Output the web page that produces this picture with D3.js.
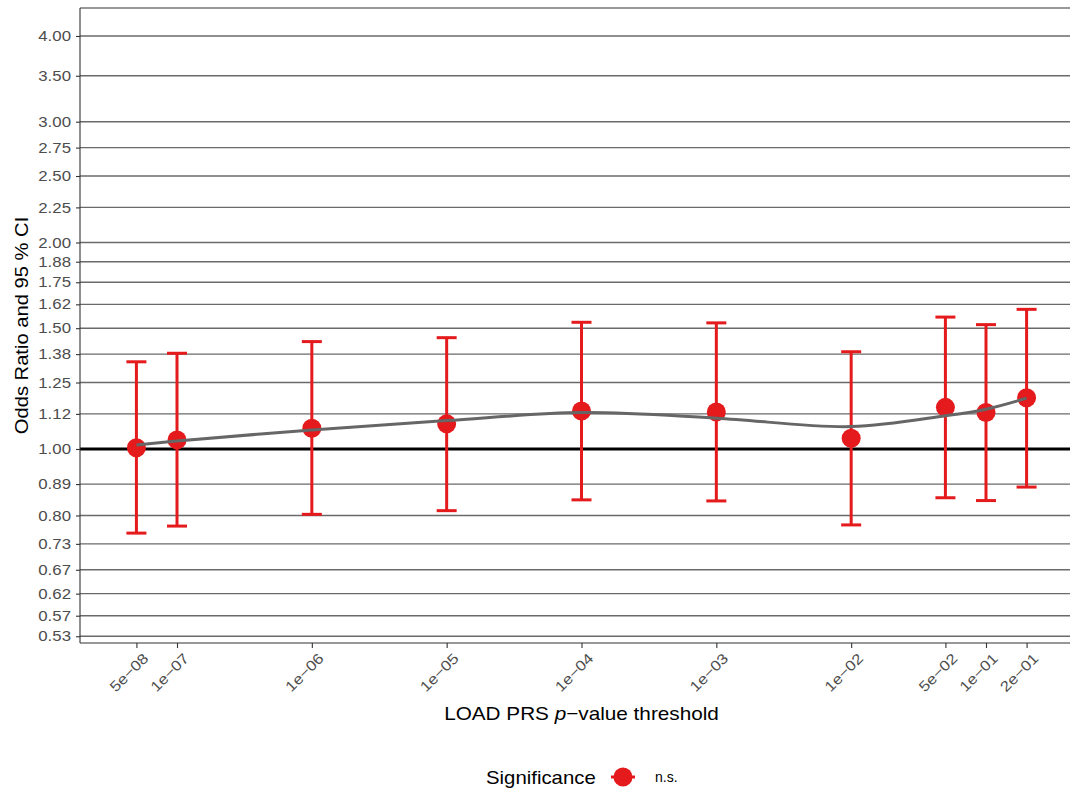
<!DOCTYPE html>
<html>
<head>
<meta charset="utf-8">
<script src="https://cdn.jsdelivr.net/npm/d3@7"></script>
<style>
  body { margin: 0; background: #fff; }
  text { font-family: "Liberation Sans", Arial, Helvetica, sans-serif; }
</style>
</head>
<body>
<svg id="chart" width="1070" height="791"></svg>
<script>
// PRS p-value thresholds and their labels
const thresholds = [5e-8, 1e-7, 1e-6, 1e-5, 1e-4, 1e-3, 1e-2, 5e-2, 1e-1, 2e-1];
const thresholdLabels = ["5e\u221208", "1e\u221207", "1e\u221206", "1e\u221205", "1e\u221204",
                         "1e\u221203", "1e\u221202", "5e\u221202", "1e\u221201", "2e\u221201"];

// Odds ratios with 95% confidence interval bounds
const oddsRatio = [1.004, 1.031, 1.072, 1.088, 1.136, 1.132, 1.037, 1.150, 1.130, 1.188];
const ciLower   = [0.754, 0.772, 0.803, 0.813, 0.843, 0.840, 0.775, 0.849, 0.841, 0.880];
const ciUpper   = [1.340, 1.379, 1.434, 1.453, 1.530, 1.527, 1.386, 1.557, 1.518, 1.598];

// Smoothed trend of the odds ratio across thresholds
const smoothFit = [1.0135, 1.027, 1.066, 1.100, 1.130, 1.109, 1.078, 1.118, 1.143, 1.186];

// Y axis breaks (odds ratio and reciprocals)
const yTicks = [1/1.875, 1/1.75, 1/1.625, 1/1.5, 1/1.375, 1/1.25, 1/1.125, 1,
                1.125, 1.25, 1.375, 1.5, 1.625, 1.75, 1.875, 2, 2.25, 2.5, 2.75, 3, 3.5, 4];
const yTickLabels = ["0.53", "0.57", "0.62", "0.67", "0.73", "0.80", "0.89", "1.00",
                     "1.12", "1.25", "1.38", "1.50", "1.62", "1.75", "1.88", "2.00",
                     "2.25", "2.50", "2.75", "3.00", "3.50", "4.00"];

const significance = ["n.s."];

const RED = "#E41A1C";
const svg = d3.select("#chart");

const panel = { left: 80, right: 1083, top: 8, bottom: 643 };

// widen glyphs of a text selection by a factor, keeping its anchor
function widen(sel, f) {
  sel.each(function () {
    const w = this.getComputedTextLength();
    this.setAttribute("textLength", w * f);
    this.setAttribute("lengthAdjust", "spacingAndGlyphs");
  });
}

const x = d3.scaleLog()
  .domain([Math.pow(10, -7.7194), Math.pow(10, -0.2806)])
  .range([panel.left, panel.right]);

const y = d3.scaleLog()
  .domain([0.5214, 4.394])
  .range([panel.bottom, panel.top]);

// horizontal grid lines
svg.append("g")
  .selectAll("line")
  .data(yTicks)
  .join("line")
  .attr("x1", panel.left).attr("x2", panel.right)
  .attr("y1", d => y(d)).attr("y2", d => y(d))
  .attr("stroke", "#6a6a6a")
  .attr("stroke-width", 1.4);

// panel top border
svg.append("line")
  .attr("x1", panel.left).attr("x2", panel.right)
  .attr("y1", panel.top).attr("y2", panel.top)
  .attr("stroke", "#333").attr("stroke-width", 1.1);

// reference line at OR = 1
svg.append("line")
  .attr("x1", panel.left).attr("x2", panel.right)
  .attr("y1", y(1)).attr("y2", y(1))
  .attr("stroke", "#000").attr("stroke-width", 3);

// Y axis
const yAxis = d3.axisLeft(y)
  .tickValues(yTicks)
  .tickFormat((d, i) => yTickLabels[i])
  .tickSize(4)
  .tickPadding(5);
const gy = svg.append("g")
  .attr("transform", `translate(${panel.left},0)`)
  .call(yAxis);
gy.select(".domain").attr("stroke", "#333").attr("stroke-width", 1.1)
  .attr("d", `M0,${panel.top}V${panel.bottom}`);
gy.selectAll(".tick line").attr("stroke", "#333").attr("stroke-width", 1.1);
gy.selectAll(".tick text")
  .attr("fill", "#4d4d4d")
  .attr("font-size", 14.5)
  .attr("font-family", "Liberation Sans, Arial, sans-serif")
  .call(widen, 1.16);

// X axis
const xAxis = d3.axisBottom(x)
  .tickValues(thresholds)
  .tickFormat((d, i) => thresholdLabels[i])
  .tickSize(5);
const gx = svg.append("g")
  .attr("transform", `translate(0,${panel.bottom})`)
  .call(xAxis);
gx.select(".domain").attr("stroke", "#333").attr("stroke-width", 1.1)
  .attr("d", `M${panel.left},0H${panel.right}`);
gx.selectAll(".tick line").attr("stroke", "#333").attr("stroke-width", 1.1);
gx.selectAll(".tick text")
  .attr("fill", "#4d4d4d")
  .attr("font-size", 14.5)
  .attr("font-family", "Liberation Sans, Arial, sans-serif")
  .attr("text-anchor", "end")
  .attr("dy", null)
  .attr("y", null)
  .attr("transform", "translate(5,9) rotate(-45)")
  .attr("dominant-baseline", "hanging")
  .call(widen, 1.16);

const rows = thresholds.map((t, i) => ({
  t, or: oddsRatio[i], lo: ciLower[i], hi: ciUpper[i], fit: smoothFit[i]
}));

// error bars
const capHalf = 10;
const eb = svg.append("g")
  .attr("stroke", RED)
  .attr("stroke-width", 3);
eb.selectAll("line.v")
  .data(rows)
  .join("line")
  .attr("class", "v")
  .attr("x1", d => x(d.t)).attr("x2", d => x(d.t))
  .attr("y1", d => y(d.lo)).attr("y2", d => y(d.hi));
eb.selectAll("line.top")
  .data(rows)
  .join("line")
  .attr("class", "top")
  .attr("x1", d => x(d.t) - capHalf).attr("x2", d => x(d.t) + capHalf)
  .attr("y1", d => y(d.hi)).attr("y2", d => y(d.hi));
eb.selectAll("line.bot")
  .data(rows)
  .join("line")
  .attr("class", "bot")
  .attr("x1", d => x(d.t) - capHalf).attr("x2", d => x(d.t) + capHalf)
  .attr("y1", d => y(d.lo)).attr("y2", d => y(d.lo));

// points
svg.append("g")
  .selectAll("circle")
  .data(rows)
  .join("circle")
  .attr("cx", d => x(d.t))
  .attr("cy", d => y(d.or))
  .attr("r", 9.5)
  .attr("fill", RED);

// smoothed trend
const smoothLine = d3.line()
  .x(d => x(d.t))
  .y(d => y(d.fit))
  .curve(d3.curveCatmullRom.alpha(0.5));
svg.append("path")
  .datum(rows)
  .attr("d", smoothLine)
  .attr("fill", "none")
  .attr("stroke", "#666666")
  .attr("stroke-width", 3);

// axis titles
svg.append("text")
  .attr("transform", `translate(28,${(panel.top + panel.bottom) / 2}) rotate(-90)`)
  .attr("text-anchor", "middle")
  .attr("font-size", 18.5)
  .attr("fill", "#000")
  .text("Odds Ratio and 95 % CI")
  .call(widen, 1.09);

const xTitle = svg.append("text")
  .attr("x", (panel.left + panel.right) / 2)
  .attr("y", 720)
  .attr("text-anchor", "middle")
  .attr("font-size", 18.5)
  .attr("fill", "#000");
xTitle.append("tspan").text("LOAD PRS ");
xTitle.append("tspan").attr("font-style", "italic").text("p");
xTitle.append("tspan").text("\u2212value threshold");
xTitle.call(widen, 1.12);

// legend
const legend = svg.append("g").attr("transform", "translate(0,777)");
legend.append("text")
  .attr("x", 486).attr("y", 6.5)
  .attr("font-size", 18.5)
  .attr("fill", "#000")
  .text("Significance")
  .call(widen, 1.10);
legend.selectAll("g.key")
  .data(significance)
  .join("g")
  .attr("class", "key")
  .each(function (d) {
    const g = d3.select(this);
    g.append("line")
      .attr("x1", 611).attr("x2", 635)
      .attr("y1", 0).attr("y2", 0)
      .attr("stroke", RED).attr("stroke-width", 3);
    g.append("circle")
      .attr("cx", 623).attr("cy", 0).attr("r", 9.5)
      .attr("fill", RED);
    g.append("text")
      .attr("x", 655).attr("y", 5)
      .attr("font-size", 14)
      .attr("fill", "#000")
      .text(d);
  });
</script>
</body>
</html>
